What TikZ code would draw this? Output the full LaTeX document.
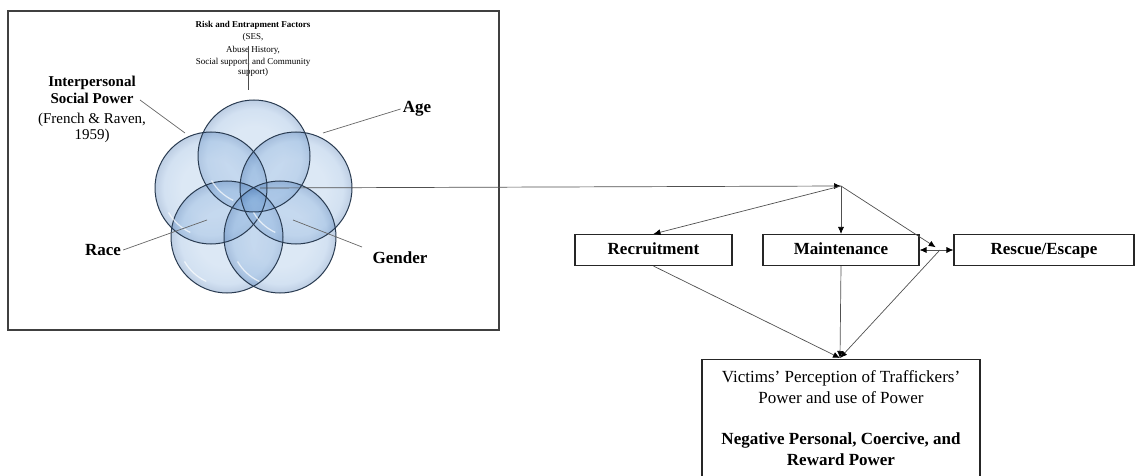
\documentclass[tikz,border=0pt]{standalone}
\usepackage{fontspec}
\setmainfont{Liberation Serif}
\usetikzlibrary{arrows.meta,calc}
\definecolor{bubA}{RGB}{150,185,225}
\definecolor{bubB}{RGB}{120,165,215}
\definecolor{bubC}{RGB}{55,105,170}
\definecolor{rim}{RGB}{40,58,80}
\definecolor{conn}{RGB}{80,80,80}
\pgfdeclareradialshading{bubble}{\pgfpoint{0bp}{0bp}}{color(0bp)=(bubA); color(13bp)=(bubA); color(21bp)=(bubB); color(25bp)=(bubC); color(50bp)=(bubC)}
\tikzset{
  bub/.style={shading=bubble, opacity=0.33},
  bubline/.style={draw=rim, line width=1pt},
  boxnode/.style={draw=black!85, line width=1.1pt, minimum height=31pt, inner sep=0pt, text height=12pt, text depth=3.5pt, font=\fontsize{17}{20}\selectfont\bfseries},
  lbl/.style={font=\fontsize{17}{20}\selectfont\bfseries, inner sep=2pt},
  leader/.style={draw=black!60, line width=0.7pt},
  conline/.style={draw=conn, line width=0.7pt},
  ah/.tip={Latex[length=7pt,width=6pt,black]},
  tip/.style={-ah},
}
\begin{document}
\begin{tikzpicture}[x=1pt,y=-1pt]
\useasboundingbox (0,0) rectangle (1135,476);
% frame
\draw[draw=black!75, line width=1.5pt] (8,11) rectangle (499,330);
% circles
\foreach \cx/\cy in {254/156, 211/188, 296/188, 227/237, 280/237}{
  \shade[bub] (\cx,\cy) circle (56);
}
\foreach \cx/\cy in {254/156, 211/188, 296/188, 227/237, 280/237}{
  \draw[bubline] (\cx,\cy) circle (56);
}
% highlights
\foreach \cx/\cy in {254/156, 211/188, 296/188, 227/237, 280/237}{
  \draw[white, opacity=0.7, line width=1.2pt] ([shift={(\cx,\cy)}]150:49) arc[start angle=150, end angle=115, radius=49];
}
% risk text
\node[font=\fontsize{9}{10}\selectfont\bfseries, inner sep=0pt] (risk) at (253,25) {Risk and Entrapment Factors};
\node[font=\fontsize{9}{10}\selectfont, inner sep=0pt] (ses) at (253,37) {(SES,};
\node[font=\fontsize{9}{10}\selectfont, inner sep=0pt] (abuse) at (253,50) {Abuse History,};
\node[font=\fontsize{9}{10}\selectfont, inner sep=0pt] (soc) at (253,62) {Social support, and Community};
\node[font=\fontsize{9}{10}\selectfont, inner sep=0pt] (sup) at (253,72) {support)};
\coordinate (rk1) at (248,46);
\coordinate (rk2) at (248,90);
\draw[draw=black!70, line width=0.8pt] (rk1) -- (rk2);
% labels
\node[font=\fontsize{15}{16.5}\selectfont\bfseries, align=center, inner sep=0pt] (isp) at (92,90) {Interpersonal\\Social Power};
\node[font=\fontsize{15}{16.5}\selectfont, align=center, inner sep=0pt] (fr) at (92,128) {(French \& Raven,\\1959)};
\node[lbl] (age) at (417,109) {Age};
\node[lbl] (race) at (103,250) {Race};
\node[lbl] (gen) at (400,258) {Gender};
\coordinate (ispA) at (140,100);
\coordinate (ispB) at (185,133);
\coordinate (ageB) at (323,133);
\coordinate (raceB) at (207,220);
\coordinate (genA) at (362,247);
\coordinate (genB) at (293,220);
\draw[leader] (ispA) -- (ispB);
\draw[leader] (age.west) -- (ageB);
\draw[leader] (race.east) -- (raceB);
\draw[leader] (genA) -- (genB);
% right side
\coordinate (vc) at (260,188);
\coordinate (hub) at (841,186);
\node[boxnode, minimum width=157pt] (rec) at (653.5,250) {Recruitment};
\node[boxnode, minimum width=156pt] (mai) at (841,250) {Maintenance};
\node[boxnode, minimum width=180pt] (res) at (1044,250) {Rescue/Escape};
\node[draw=black!85, line width=1.1pt, minimum width=278pt, minimum height=140pt, anchor=north, inner sep=0pt] (vic) at (841,359) {};
\node[font=\fontsize{17}{21}\selectfont, align=center, inner sep=0pt, anchor=north] (vict) at (841,370) {Victims’ Perception of Traffickers’\\Power and use of Power};
\node[font=\fontsize{17}{20.5}\selectfont\bfseries, align=center, inner sep=0pt, anchor=north] (vicb) at (841,433) {Negative Personal, Coercive, and\\Reward Power};
\coordinate (vt) at (840,358);
\coordinate (rj) at ($(mai.east)!0.6!(res.west)$);
\draw[conline, tip] (vc) -- (hub);
\draw[conline, tip] (hub) -- (rec.north);
\draw[conline, tip] (hub) -- (mai.north);
\draw[conline, tip, shorten >=5pt] (hub) -- (rj);
\draw[conline, ah-ah] (mai.east) -- (res.west);
\draw[conline, tip] (rec.south) -- (vt);
\draw[conline, tip] (mai.south) -- (vt);
\draw[conline, tip] (rj) -- (vt);
\end{tikzpicture}
\end{document}
